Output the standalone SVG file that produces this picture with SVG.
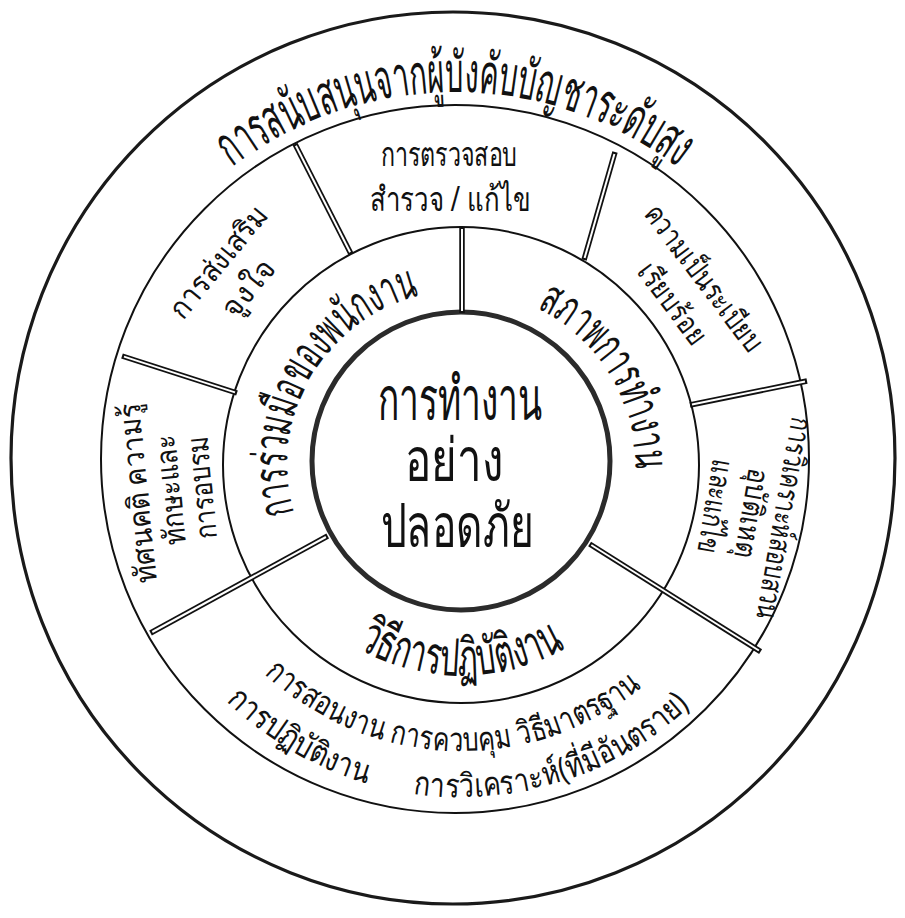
<svg xmlns="http://www.w3.org/2000/svg" xmlns:xlink="http://www.w3.org/1999/xlink" width="905" height="918" viewBox="0 0 905 918">
<style>
.ring{fill:none;stroke:#111;stroke-width:2}
.outer{fill:none;stroke:#1a1a1a;stroke-width:3.2}
.core{fill:none;stroke:#2b2b2b;stroke-width:5}
.dv{stroke:#111;stroke-width:5.5;fill:none}
.dw{stroke:#fff;stroke-width:2;fill:none}
text{font-family:"Noto Sans","DejaVu Sans",sans-serif;fill:#111}
.big{font-size:60px}
.ring1{font-size:48px}
.meth{font-size:52px}
.mid{font-size:30px}
.insp{font-size:34px}
.bot{font-size:33px}
.top{font-size:56px}
</style>
<defs>
<path id="pTop" d="M229.8,169.2 A368,368 0 0 1 680.2,169.2"/>
<path id="pCoop" d="M294.6,515.9 A174,174 0 0 1 421.9,295.5"/>
<path id="pCond" d="M537.3,308.6 A174,174 0 0 1 635.0,468.0"/>
<path id="pMeth" d="M349.8,643.8 A211,211 0 0 0 572.2,643.8"/>
<path id="pB1" d="M260.9,670.2 A288,288 0 0 0 646.1,683.6"/>
<path id="pB2a" d="M224.8,699.2 A334,334 0 0 0 368.9,784.1"/>
<path id="pB2b" d="M408.8,792.9 A334,334 0 0 0 693.0,703.3"/>
</defs>
<rect width="905" height="918" fill="#fff"/>
<g id="rings">
<ellipse class="outer" cx="453" cy="458" rx="442" ry="446"/>
<circle class="ring" cx="455" cy="459" r="354"/>
<circle class="ring" cx="461" cy="465" r="238"/>
<circle class="core" cx="461" cy="461" r="149"/>
</g>
<g id="connectors">
<g class="dv">
<line x1="462" y1="227" x2="462" y2="313"/>
<line x1="327.7" y1="536" x2="150.5" y2="633"/>
<line x1="589.6" y1="544" x2="760.6" y2="651.6"/>
<line x1="351" y1="254" x2="295" y2="144"/>
<line x1="584" y1="260" x2="615" y2="152"/>
<line x1="237" y1="393" x2="122" y2="356"/>
<line x1="690" y1="405" x2="807" y2="381"/>
</g>
<g class="dw">
<line x1="462" y1="229" x2="462" y2="311"/>
<line x1="325.9" y1="537" x2="152.3" y2="632"/>
<line x1="591.3" y1="545" x2="758.9" y2="650.5"/>
<line x1="350.1" y1="252.2" x2="295.9" y2="145.8"/>
<line x1="584.6" y1="258" x2="614.4" y2="154"/>
<line x1="235" y1="392.4" x2="124" y2="356.6"/>
<line x1="692" y1="404.6" x2="805" y2="381.4"/>
</g>
</g>
<g id="center">
<text class="big" x="460" y="420" text-anchor="middle" textLength="165" lengthAdjust="spacingAndGlyphs">การทำงาน</text>
<text class="big" x="454" y="481" text-anchor="middle" textLength="98" lengthAdjust="spacingAndGlyphs">อย่าง</text>
<text class="big" x="457" y="547" text-anchor="middle" textLength="153" lengthAdjust="spacingAndGlyphs">ปลอดภัย</text>
</g>
<g id="support">
<text class="top"><textPath xlink:href="#pTop" href="#pTop" startOffset="50%" text-anchor="middle" textLength="478" lengthAdjust="spacingAndGlyphs">การสนับสนุนจากผู้บังคับบัญชาระดับสูง</textPath></text>
</g>
<g id="cooperation">
<text class="ring1"><textPath href="#pCoop" startOffset="50%" text-anchor="middle" textLength="280" lengthAdjust="spacingAndGlyphs">การร่วมมือของพนักงาน</textPath></text>
</g>
<g id="conditions">
<text class="ring1"><textPath href="#pCond" startOffset="50%" text-anchor="middle" textLength="198" lengthAdjust="spacingAndGlyphs">สภาพการทำงาน</textPath></text>
</g>
<g id="method">
<text class="meth"><textPath href="#pMeth" startOffset="50%" text-anchor="middle" textLength="218" lengthAdjust="spacingAndGlyphs">วิธีการปฏิบัติงาน</textPath></text>
</g>
<g id="inspection">
<text class="insp" x="449" y="166" text-anchor="middle" textLength="137" lengthAdjust="spacingAndGlyphs">การตรวจสอบ</text>
<text class="insp" x="450" y="211" text-anchor="middle" textLength="160" lengthAdjust="spacingAndGlyphs">สำรวจ / แก้ไข</text>
</g>
<g id="order">
<text class="mid" transform="translate(702,279) rotate(53)" y="8" text-anchor="middle" textLength="176" lengthAdjust="spacingAndGlyphs">ความเป็นระเบียบ</text>
<text class="mid" transform="translate(671,305) rotate(53)" y="8" text-anchor="middle" textLength="94" lengthAdjust="spacingAndGlyphs">เรียบร้อย</text>
</g>
<g id="analysis">
<text class="mid" transform="translate(782,518) rotate(100)" y="8" text-anchor="middle" textLength="205" lengthAdjust="spacingAndGlyphs">การวิเคราะห์สอบสวน</text>
<text class="mid" transform="translate(749.5,513) rotate(100)" y="8" text-anchor="middle" textLength="90" lengthAdjust="spacingAndGlyphs">อุบัติเหตุ</text>
<text class="mid" transform="translate(713,506.6) rotate(100)" y="8" text-anchor="middle" textLength="95" lengthAdjust="spacingAndGlyphs">และแก้ไข</text>
</g>
<g id="training">
<text class="mid" transform="translate(140,493) rotate(-95.6)" y="8" text-anchor="middle" textLength="180" lengthAdjust="spacingAndGlyphs">ทัศนคติ ความรู้</text>
<text class="mid" transform="translate(172.4,490) rotate(-95.6)" y="8" text-anchor="middle" textLength="110" lengthAdjust="spacingAndGlyphs">ทักษะและ</text>
<text class="mid" transform="translate(204,487.4) rotate(-95.6)" y="8" text-anchor="middle" textLength="103" lengthAdjust="spacingAndGlyphs">การอบรม</text>
</g>
<g id="motivation">
<text class="mid" transform="translate(220,263) rotate(-50.5)" y="8" text-anchor="middle" textLength="136" lengthAdjust="spacingAndGlyphs">การส่งเสริม</text>
<text class="mid" transform="translate(250,289) rotate(-50.5)" y="8" text-anchor="middle" textLength="66" lengthAdjust="spacingAndGlyphs">จูงใจ</text>
</g>
<g id="procedures">
<text class="bot"><textPath href="#pB1" startOffset="50%" text-anchor="middle" textLength="412" lengthAdjust="spacingAndGlyphs">การสอนงาน การควบคุม วิธีมาตรฐาน</textPath></text>
<text class="bot"><textPath href="#pB2a" startOffset="50%" text-anchor="middle" textLength="165" lengthAdjust="spacingAndGlyphs">การปฏิบัติงาน</textPath></text>
<text class="bot"><textPath href="#pB2b" startOffset="50%" text-anchor="middle" textLength="300" lengthAdjust="spacingAndGlyphs">การวิเคราะห์(ที่มีอันตราย)</textPath></text>
</g>
</svg>
